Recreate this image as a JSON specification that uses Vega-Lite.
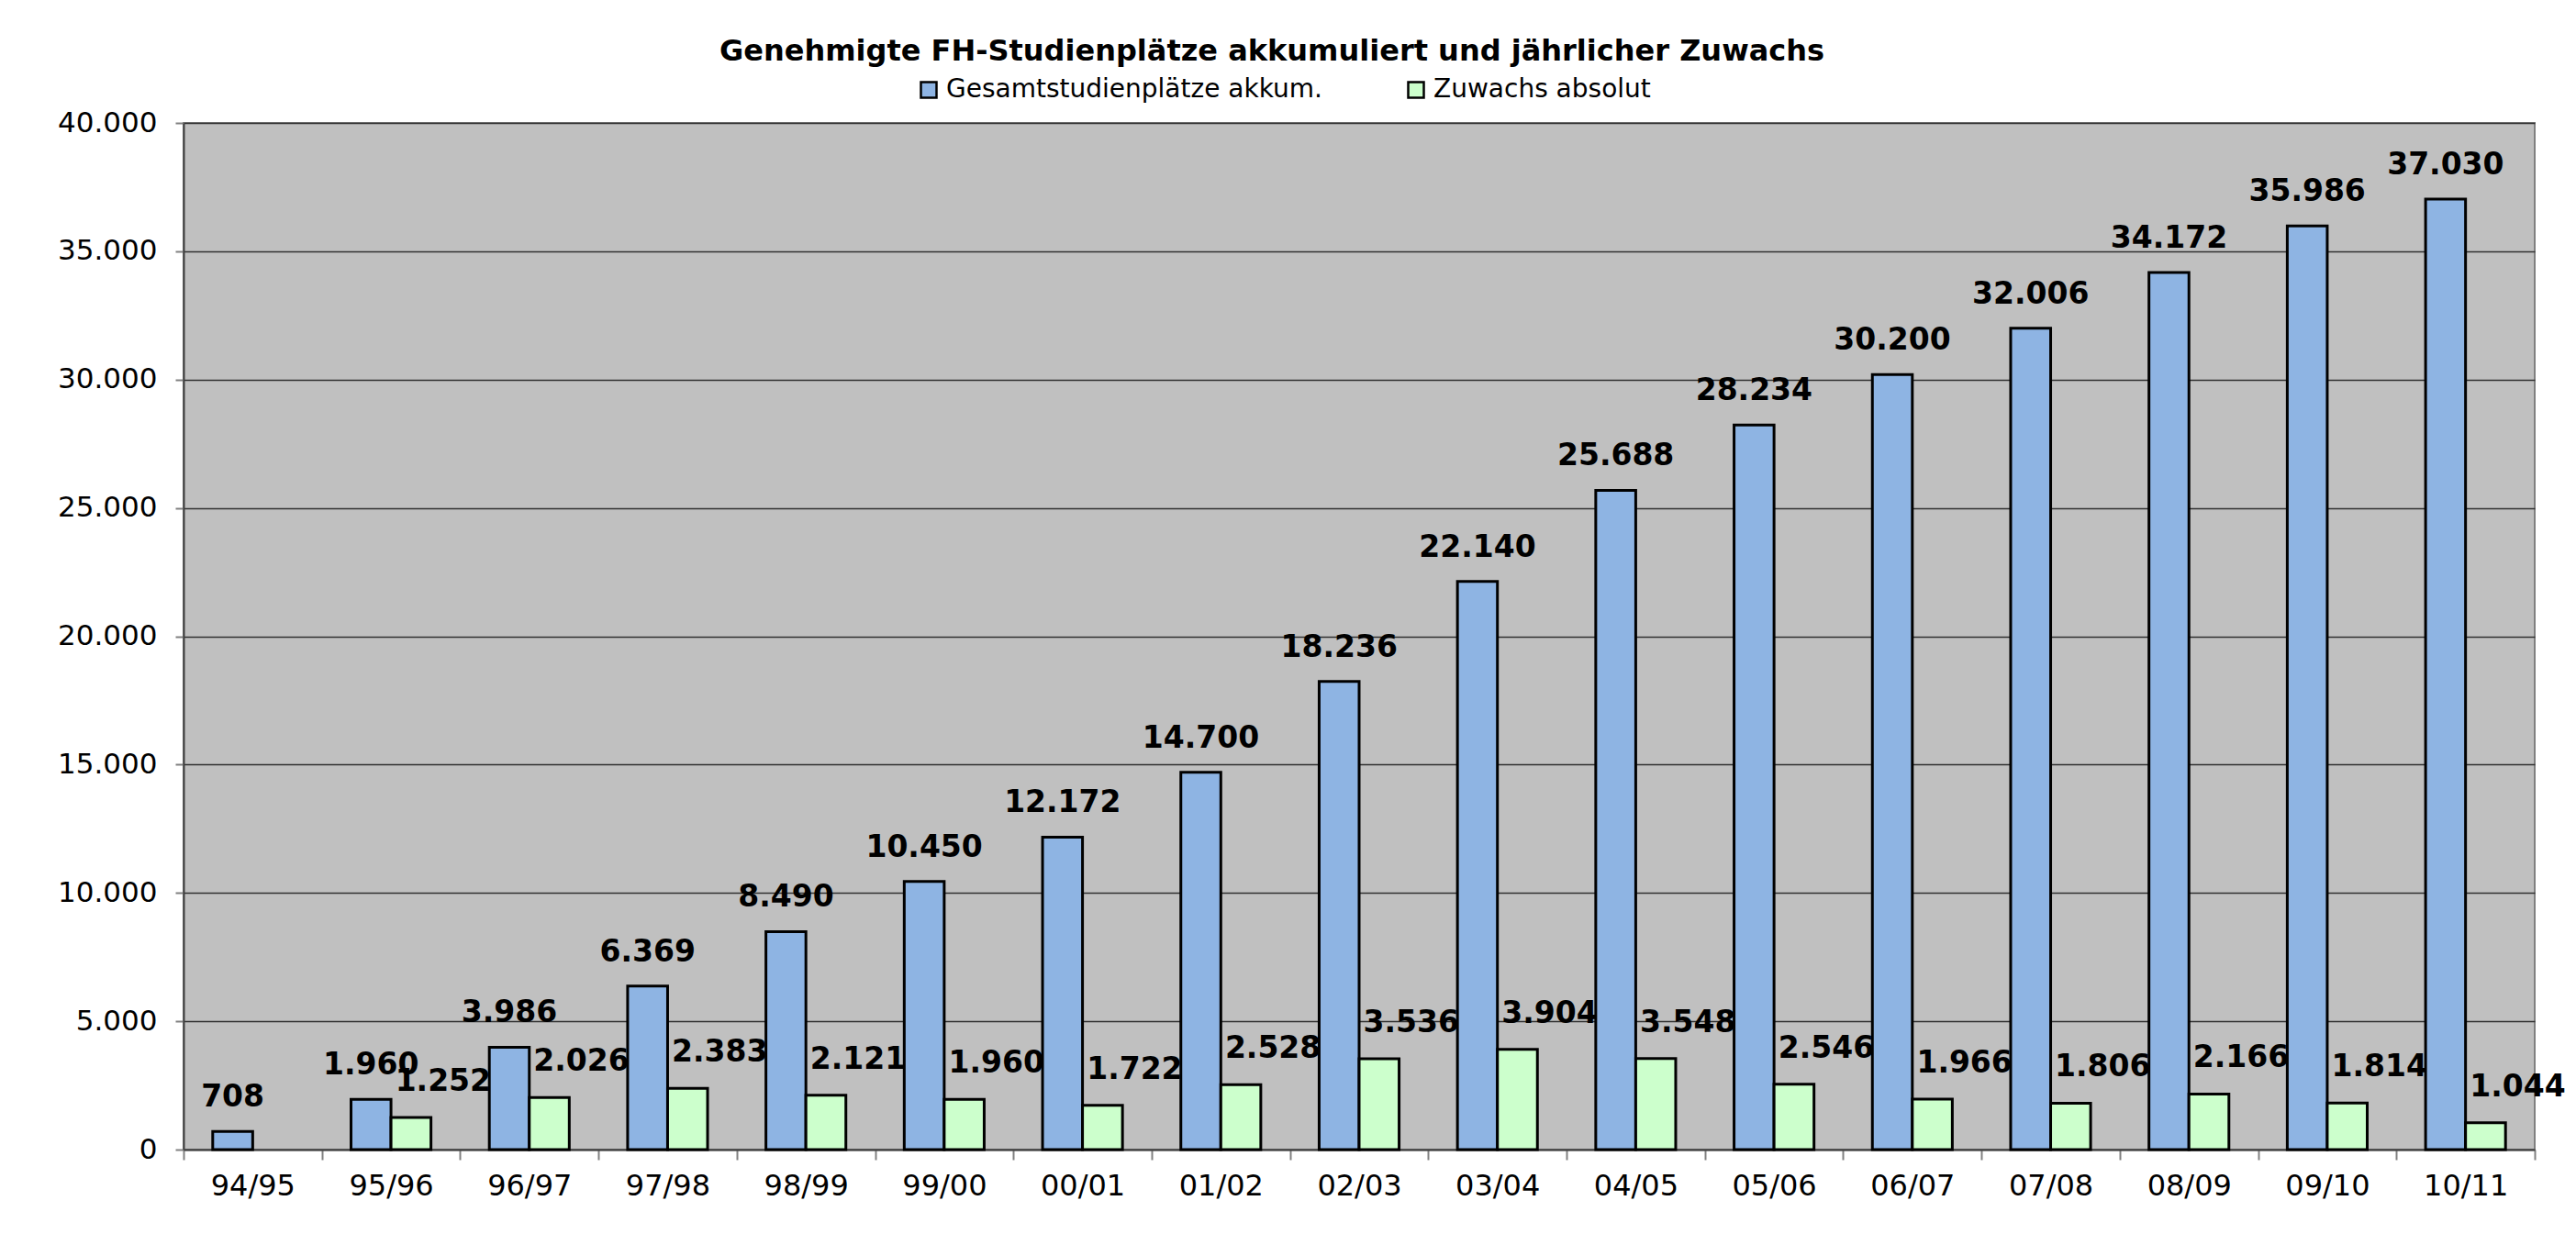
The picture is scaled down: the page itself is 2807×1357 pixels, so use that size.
{
  "$schema": "https://vega.github.io/schema/vega-lite/v6.json",
  "width": 2562,
  "height": 1119,
  "autosize": {"type": "none"},
  "padding": {"left": 200, "top": 134, "right": 45, "bottom": 104},
  "background": "white",
  "title": {
    "text": "Genehmigte FH-Studienplätze akkumuliert und jährlicher Zuwachs",
    "font": "DejaVu Sans",
    "fontSize": 32,
    "fontWeight": "bold",
    "color": "black",
    "anchor": "middle",
    "dx": -95,
    "offset": 11
  },
  "config": {
    "locale": {"number": {"decimal": ",", "thousands": ".", "grouping": [3], "currency": ["", " €"]}},
    "view": {"fill": "#C0C0C0", "stroke": "#808080", "strokeWidth": 2}
  },
  "data": {
    "values": [
      {"jahr": "94/95", "serie": "Gesamtstudienplätze akkum.", "wert": 708},
      {"jahr": "95/96", "serie": "Gesamtstudienplätze akkum.", "wert": 1960},
      {"jahr": "95/96", "serie": "Zuwachs absolut", "wert": 1252},
      {"jahr": "96/97", "serie": "Gesamtstudienplätze akkum.", "wert": 3986},
      {"jahr": "96/97", "serie": "Zuwachs absolut", "wert": 2026},
      {"jahr": "97/98", "serie": "Gesamtstudienplätze akkum.", "wert": 6369},
      {"jahr": "97/98", "serie": "Zuwachs absolut", "wert": 2383},
      {"jahr": "98/99", "serie": "Gesamtstudienplätze akkum.", "wert": 8490},
      {"jahr": "98/99", "serie": "Zuwachs absolut", "wert": 2121},
      {"jahr": "99/00", "serie": "Gesamtstudienplätze akkum.", "wert": 10450},
      {"jahr": "99/00", "serie": "Zuwachs absolut", "wert": 1960},
      {"jahr": "00/01", "serie": "Gesamtstudienplätze akkum.", "wert": 12172},
      {"jahr": "00/01", "serie": "Zuwachs absolut", "wert": 1722},
      {"jahr": "01/02", "serie": "Gesamtstudienplätze akkum.", "wert": 14700},
      {"jahr": "01/02", "serie": "Zuwachs absolut", "wert": 2528},
      {"jahr": "02/03", "serie": "Gesamtstudienplätze akkum.", "wert": 18236},
      {"jahr": "02/03", "serie": "Zuwachs absolut", "wert": 3536},
      {"jahr": "03/04", "serie": "Gesamtstudienplätze akkum.", "wert": 22140},
      {"jahr": "03/04", "serie": "Zuwachs absolut", "wert": 3904},
      {"jahr": "04/05", "serie": "Gesamtstudienplätze akkum.", "wert": 25688},
      {"jahr": "04/05", "serie": "Zuwachs absolut", "wert": 3548},
      {"jahr": "05/06", "serie": "Gesamtstudienplätze akkum.", "wert": 28234},
      {"jahr": "05/06", "serie": "Zuwachs absolut", "wert": 2546},
      {"jahr": "06/07", "serie": "Gesamtstudienplätze akkum.", "wert": 30200},
      {"jahr": "06/07", "serie": "Zuwachs absolut", "wert": 1966},
      {"jahr": "07/08", "serie": "Gesamtstudienplätze akkum.", "wert": 32006},
      {"jahr": "07/08", "serie": "Zuwachs absolut", "wert": 1806},
      {"jahr": "08/09", "serie": "Gesamtstudienplätze akkum.", "wert": 34172},
      {"jahr": "08/09", "serie": "Zuwachs absolut", "wert": 2166},
      {"jahr": "09/10", "serie": "Gesamtstudienplätze akkum.", "wert": 35986},
      {"jahr": "09/10", "serie": "Zuwachs absolut", "wert": 1814},
      {"jahr": "10/11", "serie": "Gesamtstudienplätze akkum.", "wert": 37030},
      {"jahr": "10/11", "serie": "Zuwachs absolut", "wert": 1044}
    ]
  },
  "encoding": {
    "x": {
      "field": "jahr",
      "type": "nominal",
      "sort": null,
      "scale": {"paddingInner": 0, "paddingOuter": 0},
      "axis": {
        "title": null,
        "labelAngle": 0,
        "labelFont": "DejaVu Sans",
        "labelFontSize": 32,
        "labelColor": "black",
        "labelPadding": 13,
        "tickBand": "extent",
        "tickSize": 11,
        "tickColor": "#808080",
        "tickWidth": 2,
        "domainColor": "#404040",
        "domainWidth": 2,
        "grid": false
      }
    },
    "xOffset": {
      "field": "serie",
      "type": "nominal",
      "sort": ["Gesamtstudienplätze akkum.", "Zuwachs absolut"],
      "scale": {"paddingInner": 0, "paddingOuter": 0.73}
    },
    "y": {
      "field": "wert",
      "type": "quantitative",
      "scale": {"domain": [0, 40000], "nice": false},
      "axis": {
        "title": null,
        "values": [0, 5000, 10000, 15000, 20000, 25000, 30000, 35000, 40000],
        "format": ",d",
        "labelFont": "DejaVu Sans",
        "labelFontSize": 31,
        "labelColor": "black",
        "labelPadding": 20,
        "tickSize": 9,
        "tickColor": "#808080",
        "tickWidth": 2,
        "domainColor": "#404040",
        "domainWidth": 2,
        "grid": true,
        "gridColor": "#303030",
        "gridWidth": 1.3
      }
    }
  },
  "layer": [
    {
      "mark": {"type": "bar", "stroke": "black", "strokeWidth": 3},
      "encoding": {
        "color": {
          "field": "serie",
          "type": "nominal",
          "scale": {"domain": ["Gesamtstudienplätze akkum.", "Zuwachs absolut"], "range": ["#8EB4E3", "#CCFFCC"]},
          "legend": {
            "title": null,
            "orient": "none",
            "direction": "horizontal",
            "legendX": 798,
            "legendY": -50,
            "labelFont": "DejaVu Sans",
            "labelFontSize": 28,
            "labelColor": "black",
            "labelLimit": 1000,
            "labelOffset": 5,
            "symbolType": "square",
            "symbolSize": 289,
            "symbolStrokeColor": "black",
            "symbolStrokeWidth": 2.5,
            "columnPadding": 88
          }
        }
      }
    },
    {
      "transform": [{"filter": "datum.serie == 'Gesamtstudienplätze akkum.'"}],
      "mark": {"type": "text", "font": "DejaVu Sans", "fontSize": 33, "fontWeight": "bold", "color": "black", "baseline": "alphabetic", "align": "center", "dy": -27},
      "encoding": {"text": {"field": "wert", "type": "quantitative", "format": ",d"}}
    },
    {
      "transform": [{"filter": "datum.serie == 'Zuwachs absolut'"}],
      "mark": {"type": "text", "font": "DejaVu Sans", "fontSize": 33, "fontWeight": "bold", "color": "black", "baseline": "alphabetic", "align": "center", "dx": 35, "dy": -29},
      "encoding": {"text": {"field": "wert", "type": "quantitative", "format": ",d"}}
    }
  ]
}
